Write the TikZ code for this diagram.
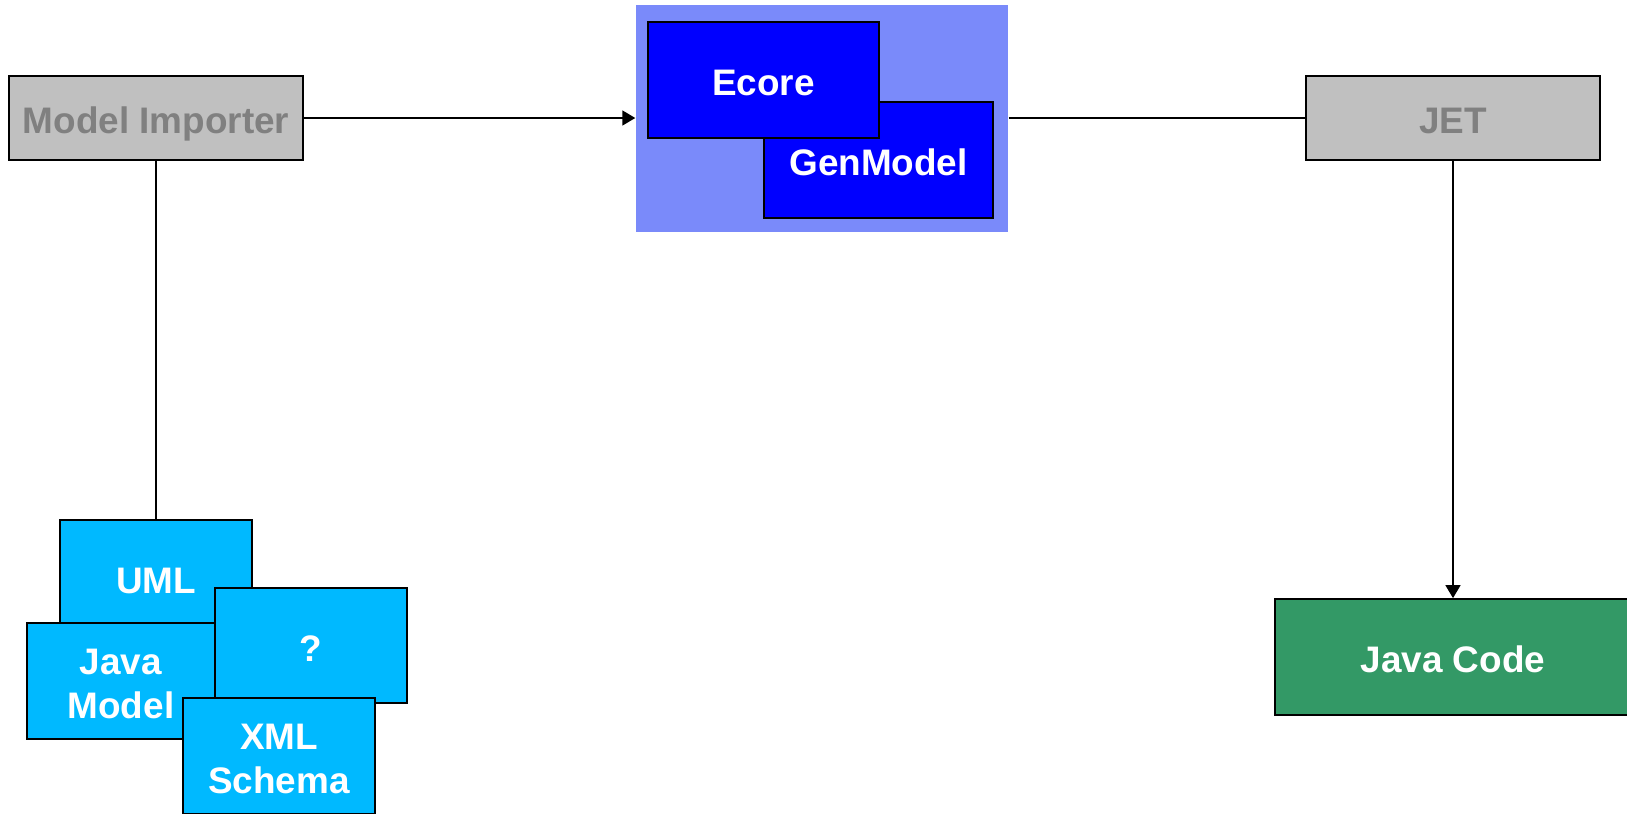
\documentclass[tikz,border=0pt]{standalone}
\usepackage{fontspec}
\setmainfont{Liberation Sans}
\usepackage{tikz}
\usetikzlibrary{shapes, arrows.meta}

\definecolor{toolfill}{RGB}{192,192,192}
\definecolor{tooltext}{RGB}{128,128,128}
\definecolor{metaback}{RGB}{122,138,250}
\definecolor{corefill}{RGB}{0,0,255}
\definecolor{srcfill}{RGB}{0,185,255}
\definecolor{codefill}{RGB}{51,153,102}

\tikzset{
	box/.style={rectangle, draw=black, line width=0.5pt, inner sep=0pt, align=center,
		font=\fontsize{10.5}{12.5}\selectfont\bfseries, text height=8.9pt, text depth=0pt},
	twolines/.style={text height=21.4pt, text depth=0pt},
	tool/.style={box, fill=toolfill, text=tooltext, minimum width=2.94cm, minimum height=0.84cm},
	core/.style={box, fill=corefill, text=white, minimum width=2.3cm, minimum height=1.16cm},
	src/.style={box, fill=srcfill, text=white, minimum width=1.92cm, minimum height=1.16cm},
	flow/.style={line width=0.45pt, -{Triangle[length=1.3mm, width=1.5mm]}}
}

\begin{document}
\begin{tikzpicture}
		\useasboundingbox (0,0) rectangle (16.27,8.13);
		\node at (8.22,6.945) [rectangle, fill=metaback, minimum width=3.72cm, minimum height=2.27cm, inner sep=0pt] (meta) {};
		\node at (8.785,6.53) [core, minimum width=2.29cm] (gen) {GenModel};
		\node at (7.635,7.33) [core, minimum width=2.31cm] (ecore) {Ecore};
		\node at (1.56,6.95) [tool] (imp) {Model Importer};
		\node at (14.53,6.95) [tool] (jet) {JET};
		\node at (14.53,1.56) [box, fill=codefill, text=white, minimum width=3.56cm, minimum height=1.16cm] (code) {Java Code};
		\node at (1.56,2.35) [src] (uml) {UML};
		\node at (1.21,1.32) [src, twolines, minimum width=1.88cm] (jmodel) {Java\\Model};
		\node at (3.11,1.675) [src, minimum height=1.15cm] (other) {?};
		\node at (2.79,0.57) [src, twolines] (xsd) {XML\\Schema};
		\draw[flow] (imp.east) -- (imp.east -| meta.west);
		\draw[line width=0.45pt] (jet.west -| meta.east) -- (jet.west);
		\draw[line width=0.45pt] (imp.south) -- (uml.north);
		\draw[flow] (jet.south) -- (code.north);
\end{tikzpicture}
\end{document}
